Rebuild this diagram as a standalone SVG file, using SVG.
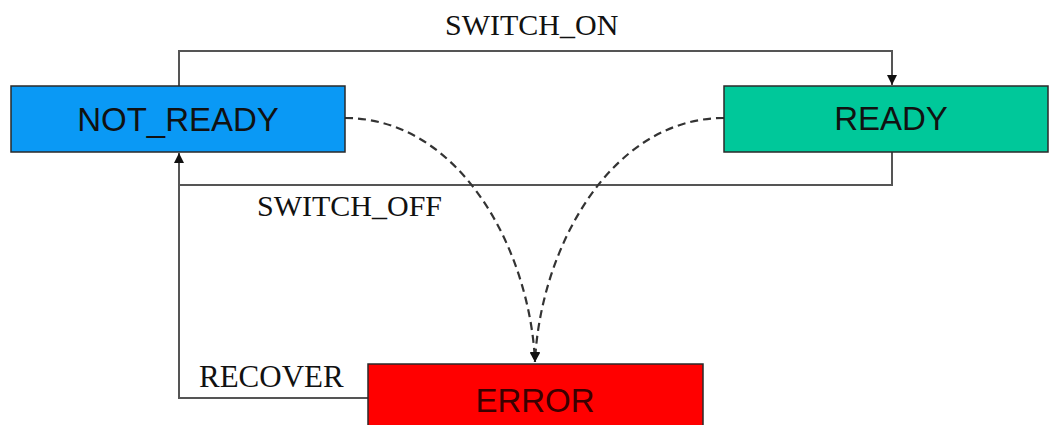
<svg xmlns="http://www.w3.org/2000/svg" width="1050" height="425" viewBox="0 0 1050 425">
<style>
.box{stroke:#2a2a2a;stroke-width:1.5}
.lbl{font-family:"Liberation Sans",Arial,sans-serif;font-size:33px;fill:#111;text-anchor:middle}
.tr{font-family:"Liberation Serif","Times New Roman",serif;font-size:30px;fill:#111}
.wire{fill:none;stroke:#555;stroke-width:2}
.dash{fill:none;stroke:#333;stroke-width:2.2;stroke-dasharray:8,5}
</style>
<defs>
<marker id="arr" viewBox="0 0 10 10" refX="10" refY="5" markerWidth="10" markerHeight="10" markerUnits="userSpaceOnUse" orient="auto">
<path d="M0,0 L10,5 L0,10 Z" fill="#111"/>
</marker>
</defs>
<rect width="1050" height="425" fill="#fff"/>
<g id="connectors">
<path class="wire" d="M179,86 V51 H892 V85" marker-end="url(#arr)"/>
<path class="wire" d="M892,152 V185 H179 V153" marker-end="url(#arr)"/>
<path class="wire" d="M368,398 H179 V185"/>
<path class="dash" d="M345,118 C460,118 530,250 535,362" marker-end="url(#arr)"/>
<path class="dash" d="M724,118 C610,118 540,250 535,362" marker-end="url(#arr)"/>
<text class="tr" x="445" y="35">SWITCH_ON</text>
<text class="tr" x="257" y="216">SWITCH_OFF</text>
<text class="tr" x="199" y="387" style="font-size:31px">RECOVER</text>
</g>
<g id="not_ready">
<rect class="box" x="11" y="86" width="334" height="66" fill="#0a99f5"/>
<text class="lbl" x="178" y="131">NOT_READY</text>
</g>
<g id="ready">
<rect class="box" x="724" y="86" width="324" height="66" fill="#00c89a"/>
<text class="lbl" x="891" y="130">READY</text>
</g>
<g id="error">
<rect class="box" x="368" y="364" width="335" height="70" fill="#ff0000"/>
<text class="lbl" x="535" y="412" style="fill:#3a0000">ERROR</text>
</g>
</svg>
